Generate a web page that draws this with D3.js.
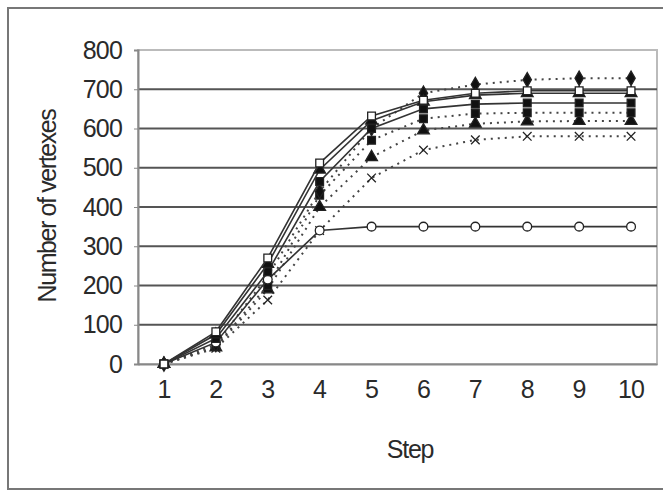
<!DOCTYPE html>
<meta charset="utf-8">
<title>Number of vertexes by step</title>
<script src="https://d3js.org/d3.v7.min.js"></script>
<style>
  body { margin: 0; background: #fff; }
  text { font-family: "Liberation Sans", Arial, sans-serif; fill: #2a2a2a; }
</style>
<body>
<svg id="chart" width="663" height="494"></svg>
</body>
<script>
// data
const steps = [1, 2, 3, 4, 5, 6, 7, 8, 9, 10]
const yTicks = [0, 100, 200, 300, 400, 500, 600, 700, 800]

const openSquareSolid   = [0, 82, 270, 512, 632, 672, 690, 696, 696, 696]
const filledTriSolid    = [0, 75, 255, 495, 620, 668, 685, 690, 690, 690]
const filledSquareSolid = [0, 65, 235, 465, 600, 650, 662, 665, 665, 665]
const openCircleSolid   = [0, 55, 215, 340, 350, 350, 350, 350, 350, 350]
const diamondDotted     = [0, 50, 225, 440, 600, 690, 712, 724, 728, 728]
const squareDotted      = [0, 45, 200, 430, 570, 625, 638, 640, 640, 640]
const triDotted         = [0, 42, 190, 400, 527, 595, 612, 618, 619, 619]
const crossDotted       = [0, 40, 163, 340, 474, 545, 571, 580, 580, 580]

const series = [
    { values: crossDotted, symbol: "cross", filled: false, dashed: true },
    { values: triDotted, symbol: "triangle", filled: true, dashed: true },
    { values: squareDotted, symbol: "square", filled: true, dashed: true },
    { values: diamondDotted, symbol: "diamond", filled: true, dashed: true },
    { values: openCircleSolid, symbol: "circle", filled: false, dashed: false },
    { values: filledSquareSolid, symbol: "square", filled: true, dashed: false },
    { values: filledTriSolid, symbol: "triangle", filled: true, dashed: false },
    { values: openSquareSolid, symbol: "square", filled: false, dashed: false }
]

let svg = d3.select("#chart")

// outer chart frame (right edge runs off the picture)
svg.append("rect")
    .attr("x", 8).attr("y", 8)
    .attr("width", 720).attr("height", 481)
    .attr("fill", "none")
    .attr("stroke", "#777")
    .attr("stroke-width", 2)

let plotLeft = 138, plotRight = 657, plotTop = 50, plotBottom = 364

let x = d3.scaleBand().domain(steps).range([plotLeft, plotRight])
let y = d3.scaleLinear().domain([0, 800]).range([plotBottom, plotTop])

// plot area border
svg.append("rect")
    .attr("x", plotLeft).attr("y", plotTop)
    .attr("width", plotRight - plotLeft).attr("height", plotBottom - plotTop)
    .attr("fill", "none")
    .attr("stroke", "#bbb")
    .attr("stroke-width", 2)

// gridlines
svg.append("g").selectAll("line")
    .data(yTicks.filter(d => d > 0 && d < 800))
    .enter().append("line")
    .attr("x1", plotLeft).attr("x2", plotRight)
    .attr("y1", d => y(d)).attr("y2", d => y(d))
    .attr("stroke", "#555")
    .attr("stroke-width", 2)

// axes
let yAxis = svg.append("g")
    .attr("transform", `translate(${plotLeft},0)`)
    .call(d3.axisLeft(y).tickValues(yTicks).tickSize(4).tickPadding(12))
yAxis.select(".domain").attr("stroke", "#888").attr("stroke-width", 2)
yAxis.selectAll(".tick line").attr("stroke", "#888")
yAxis.selectAll("text")
    .style("font-size", "25px")
    .style("letter-spacing", "-0.8px")
    .attr("fill", "#2a2a2a")

let xAxis = svg.append("g")
    .attr("transform", `translate(0,${plotBottom})`)
    .call(d3.axisBottom(x).tickSize(0).tickPadding(16))
xAxis.select(".domain").attr("stroke", "#888").attr("stroke-width", 2)
xAxis.selectAll("text")
    .style("font-size", "25px")
    .style("letter-spacing", "-0.8px")
    .attr("fill", "#2a2a2a")

// axis titles
svg.append("text")
    .attr("transform", "translate(56,206) rotate(-90)")
    .attr("text-anchor", "middle")
    .style("font-size", "25px")
    .style("letter-spacing", "-1.4px")
    .text("Number of vertexes")

svg.append("text")
    .attr("x", 410).attr("y", 458)
    .attr("text-anchor", "middle")
    .style("font-size", "25px")
    .style("letter-spacing", "-1.2px")
    .text("Step")

// lines
let cx = d => x(d) + x.bandwidth() / 2
let line = d3.line()
    .x((d, i) => cx(steps[i]))
    .y(d => y(d))

let symbols = {
    square: d3.symbolSquare,
    triangle: d3.symbolTriangle,
    diamond: d3.symbolDiamond,
    circle: d3.symbolCircle,
    cross: d3.symbolX
}

series.forEach(s => {
    svg.append("path")
        .attr("d", line(s.values))
        .attr("fill", "none")
        .attr("stroke", s.dashed ? "#444" : "#333")
        .attr("stroke-width", s.dashed ? 2 : 1.6)
        .attr("stroke-dasharray", s.dashed ? "2,5" : null)

    svg.append("g").selectAll("path")
        .data(s.values)
        .enter().append("path")
        .attr("transform", (d, i) => `translate(${cx(steps[i])},${y(d)})`)
        .attr("d", d3.symbol().type(symbols[s.symbol]).size(s.symbol === "cross" ? 50 : 60))
        .attr("fill", s.filled ? "#111" : "#fff")
        .attr("stroke", "#222")
        .attr("stroke-width", 1.3)
})
</script>
</html>
